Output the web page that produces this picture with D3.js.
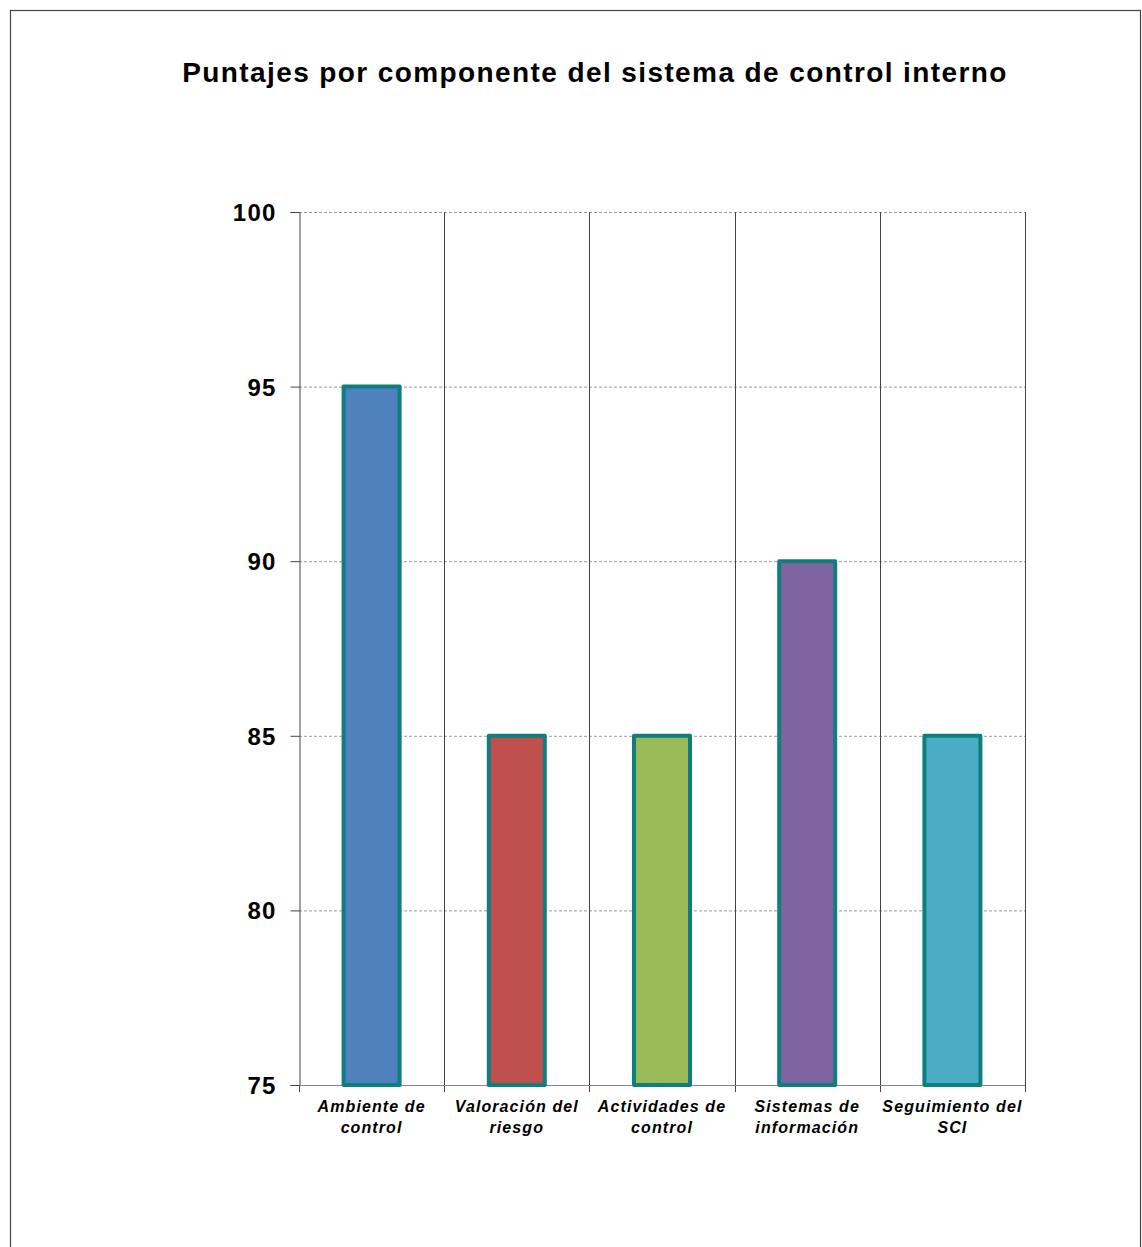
<!DOCTYPE html>
<html><head><meta charset="utf-8">
<script src="https://cdn.jsdelivr.net/npm/d3@7"></script>
<style>body{margin:0;background:#fff}svg{display:block}</style>
</head><body>
<script>
const categories = [["Ambiente de","control"],["Valoración del","riesgo"],["Actividades de","control"],["Sistemas de","información"],["Seguimiento del","SCI"]];
const values = [95, 85, 85, 90, 85];
const colors = ["#4F81BD","#C0504D","#9BBB59","#8064A2","#4BACC6"];
const yTicks = [75, 80, 85, 90, 95, 100];
const title = "Puntajes por componente del sistema de control interno";

const W = 1142, H = 1247;
const svg = d3.select("body").append("svg").attr("width", W).attr("height", H);
svg.append("rect").attr("x",10.5).attr("y",10.5).attr("width",1130).attr("height",1260)
  .attr("fill","#fff").attr("stroke","#444").attr("stroke-width",1.2);

const m = {left:299, right:1025, top:212, bottom:1085};
const x = d3.scaleBand().domain(d3.range(values.length)).range([m.left, m.right]).paddingInner(0).paddingOuter(0);
const y = d3.scaleLinear().domain([75,100]).range([m.bottom, m.top]);

svg.append("text").attr("x",595).attr("y",82).attr("text-anchor","middle")
  .attr("font-family","Liberation Sans, Arial, sans-serif").attr("font-weight","bold").attr("font-size",28)
  .attr("letter-spacing",1.4)
  .text(title);

// gridlines
svg.append("g").selectAll("line").data(yTicks.filter(t=>t>75)).join("line")
  .attr("x1",m.left).attr("x2",m.right).attr("y1",d=>y(d)+0.5).attr("y2",d=>y(d)+0.5)
  .attr("stroke","#999").attr("stroke-dasharray","3,2").attr("stroke-width",1);

// vertical category separators
svg.append("g").selectAll("line").data(d3.range(1, values.length+1)).join("line")
  .attr("x1",i=>Math.round(m.left + i*x.bandwidth())+0.5).attr("x2",i=>Math.round(m.left + i*x.bandwidth())+0.5)
  .attr("y1",m.top).attr("y2",m.bottom+7).attr("stroke","#444").attr("stroke-width",1);

// y axis
const yAxis = d3.axisLeft(y).tickValues(yTicks).tickSize(9).tickPadding(14);
const gy = svg.append("g").attr("transform",`translate(${m.left+0.5},0)`).call(yAxis);
gy.select(".domain").attr("stroke","#444");
gy.selectAll(".tick line").attr("stroke","#444");
gy.selectAll(".tick text").attr("font-family","Liberation Sans, Arial, sans-serif").attr("font-weight","bold").attr("font-size",24).attr("letter-spacing",1.2).attr("fill","#000").attr("dy","0.35em");

// x axis baseline
svg.append("line").attr("x1",m.left).attr("x2",m.right).attr("y1",m.bottom+0.5).attr("y2",m.bottom+0.5).attr("stroke","#888");
svg.append("line").attr("x1",m.left+0.5).attr("x2",m.left+0.5).attr("y1",m.bottom).attr("y2",m.bottom+7).attr("stroke","#444");

// bars
const bw = 56;
svg.append("g").selectAll("rect").data(values).join("rect")
  .attr("x",(d,i)=>x(i)+x.bandwidth()/2-bw/2).attr("width",bw)
  .attr("y",d=>y(d)).attr("height",d=>y(75)-y(d))
  .attr("fill",(d,i)=>colors[i]).attr("stroke","#0E7E7E").attr("stroke-width",4).attr("stroke-linejoin","round");

// category labels
const lab = svg.append("g").selectAll("text").data(categories).join("text")
  .attr("text-anchor","middle").attr("font-family","Liberation Sans, Arial, sans-serif")
  .attr("font-weight","bold").attr("font-style","italic").attr("font-size",16).attr("letter-spacing",1.1).attr("fill","#000");
lab.each(function(d,i){
  const t = d3.select(this);
  d.forEach((line,j)=>{
    t.append("tspan").attr("x",x(i)+x.bandwidth()/2).attr("y",1112+j*21).text(line);
  });
});
</script>
</body></html>
